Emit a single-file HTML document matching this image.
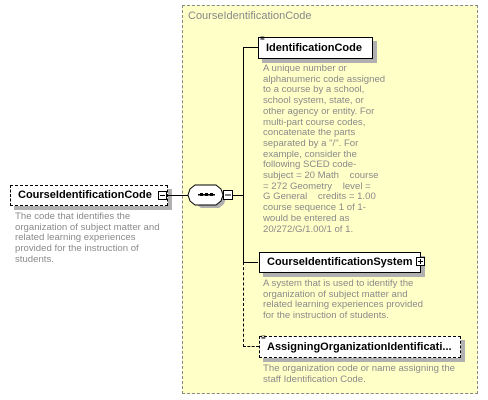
<!DOCTYPE html>
<html><head><style>
body{margin:0;width:488px;height:400px;background:#fff;position:relative;overflow:hidden;font-family:"Liberation Sans","DejaVu Sans",sans-serif}
.a{position:absolute}
.node{position:absolute;background:#fff;border:1px solid #000;font-weight:bold;font-size:11px;line-height:19px;padding-left:7px;box-shadow:4px 4px 0 #b0b0b0;box-sizing:border-box}
.dash{border:1px dashed #000}
.desc{position:absolute;color:#8a8a8a;font-size:9.6px;line-height:10.7px;white-space:pre}
.bx{position:absolute;width:9px;height:9px;border:1px solid #000;background:#fff;box-sizing:border-box}
.bx:before{content:"";position:absolute;left:1px;right:1px;top:3px;height:1px;background:#000}
.plus:after{content:"";position:absolute;top:1px;bottom:1px;left:3px;width:1px;background:#000}
</style></head><body>
<div class="a" style="left:182px;top:5px;width:296px;height:389px;background:#ffffc8;border:1px dashed #888;box-sizing:border-box"></div>
<div class="a" style="left:188px;top:10px;font-size:11px;color:#888">CourseIdentificationCode</div>

<div class="node dash" style="left:10px;top:185px;width:158px;height:21px">CourseIdentificationCode</div>
<div class="bx" style="left:158px;top:191px"></div>
<div class="desc" style="left:15px;top:212px">The code that identifies the
organization of subject matter and
related learning experiences
provided for the instruction of
students.</div>

<div class="a" style="left:168px;top:195px;width:22px;height:1px;background:#000"></div>
<svg class="a" style="left:186px;top:183px" width="50" height="28">
<polygon points="12,2 30,2 35,6 37,12 35,18 30,22 12,22 7,18 5,12 7,6" fill="#b0b0b0" transform="translate(3,3)"/>
<polygon points="9,2 30,2 35,6 37,12 35,18 30,22 9,22 4,18 2,12 4,6" fill="#fff" stroke="#000"/>
<rect x="12" y="11" width="17" height="1.5" fill="#000"/>
<rect x="14" y="10" width="3" height="3" fill="#000"/><rect x="19" y="10" width="3" height="3" fill="#000"/><rect x="24" y="10" width="3" height="3" fill="#000"/>
<rect x="37.5" y="7.5" width="9" height="9" fill="#fff" stroke="#000"/>
<line x1="39" y1="12" x2="45" y2="12" stroke="#000"/>
</svg>
<div class="a" style="left:233px;top:195px;width:10px;height:1px;background:#000"></div>
<div class="a" style="left:243px;top:47px;width:1px;height:215px;background:#000"></div>
<div class="a" style="left:243px;top:262px;width:0;height:85px;border-left:1px dashed #000"></div>
<div class="a" style="left:243px;top:47px;width:15px;height:1px;background:#000"></div>
<div class="a" style="left:243px;top:262px;width:15px;height:1px;background:#000"></div>
<div class="a" style="left:243px;top:346px;width:16px;border-top:1px dashed #000"></div>

<div class="node" style="left:258px;top:37px;width:115px;height:22px;line-height:20px">IdentificationCode</div>
<div class="a" style="left:260px;top:37px;font-size:8px;line-height:3px">≡</div>
<div class="desc" style="left:263px;top:64px">A unique number or
alphanumeric code assigned
to a course by a school,
school system, state, or
other agency or entity. For
multi-part course codes,
concatenate the parts
separated by a "/". For
example, consider the
following SCED code-
subject = 20 Math    course
= 272 Geometry    level =
G General    credits = 1.00
course sequence 1 of 1-
would be entered as
20/272/G/1.00/1 of 1.</div>

<div class="node" style="left:259px;top:252px;width:162px;height:21px">CourseIdentificationSystem</div>
<div class="bx plus" style="left:416px;top:257px"></div>
<div class="desc" style="left:263px;top:279px">A system that is used to identify the
organization of subject matter and
related learning experiences provided
for the instruction of students.</div>

<div class="node dash" style="left:259px;top:336px;width:202px;height:22px;line-height:20px">AssigningOrganizationIdentificati...</div>
<div class="a" style="left:261px;top:336px;font-size:8px;line-height:3px">≡</div>
<div class="desc" style="left:263px;top:364px">The organization code or name assigning the
staff Identification Code.</div>
</body></html>
